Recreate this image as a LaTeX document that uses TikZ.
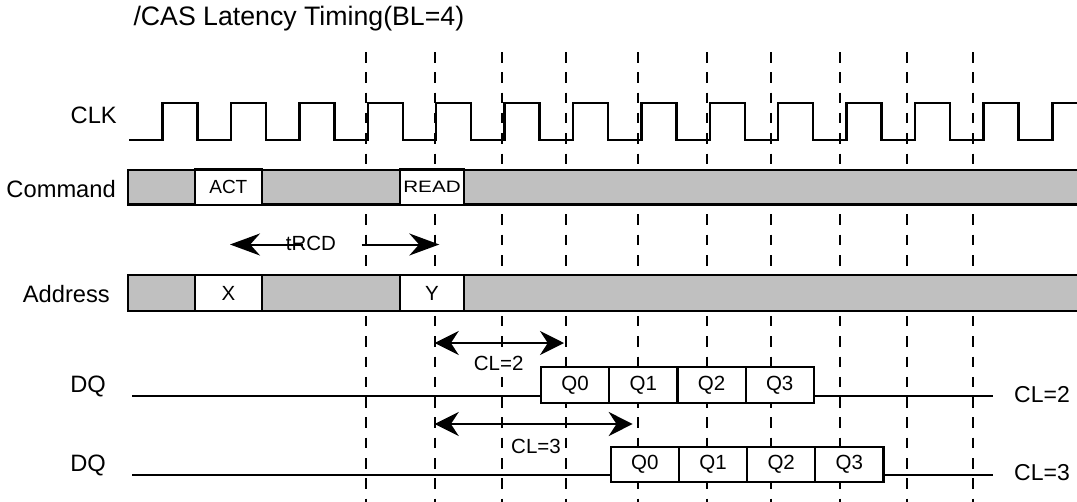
\documentclass[tikz,border=0pt]{standalone}
\usepackage{fontspec}
\setmainfont{Liberation Sans}
\usetikzlibrary{arrows.meta,positioning}

\definecolor{busgray}{RGB}{192,192,192}

\begin{document}
\begin{tikzpicture}[x=1pt,y=-1pt,>={Stealth[length=24pt,width=24pt]}]

\def\px#1{\fontsize{#1}{#1}\selectfont}

\tikzset{
	lbl/.style={inner sep=0pt,anchor=base east,font=\px{23.7}},
	sig/.style={line width=2.4pt},
	bus/.style={draw,line width=2.2pt,fill=busgray},
	cell/.style={draw,line width=2.2pt,fill=white,inner sep=0pt,outer sep=0pt,
		minimum height=35.5pt,font=\px{20.5}},
	grid/.style={line width=1.2pt,dash pattern=on 10.5pt off 9.8pt},
	span/.style={line width=2pt}
}

\clip (0,0) rectangle (1077,501);

% clock edges
\foreach \x in {366,435,502,566,638,707,771,840,907,973}
	\draw[grid] (\x,52) -- (\x,505);

\node[inner sep=0pt,anchor=base west,font=\px{26.7}] (title) at (133.3,25) {/CAS Latency Timing(BL=4)};

\node[lbl] (clk) at (117,123.3) {CLK};
\node[lbl] (cmd) at (116,197.3) {Command};
\node[lbl] (addr) at (110,302.5) {Address};
\node[lbl] (dqa) at (106,392.2) {DQ};
\node[lbl] (dqb) at (106,471.5) {DQ};

% CLK
\draw[sig] (129.3,140) foreach \k in {0,...,12}{
		-- ({162.5+68.4*\k},140) -- ++(0,-37.3) -- ++(35,0) -- ++(0,37.3)}
	-- (1052.3,140) -- (1052.3,102.7) -- (1085,102.7);

% Command
\draw[bus] (127.7,170) rectangle (1090,204.5);
\node[cell,minimum width=66.7pt,font=\px{19}] (act) at (228.35,187.25) {ACT};
\node[cell,minimum width=64pt,font=\px{16.5}] (rd) at (432,187.25) {\scalebox{1.25}[1]{READ}};

% Address
\draw[bus] (127.7,275) rectangle (1090,311);
\node[cell,minimum width=66.7pt] (xa) at (228.35,293) {X};
\node[cell,minimum width=64pt] (ya) at (432,293) {Y};

% tRCD
\coordinate (ra) at (230,244.5);
\coordinate (rb) at (303,244.5);
\coordinate (rc) at (361.7,244.5);
\coordinate (rd) at (439.3,244.5);
\node[inner sep=0pt,font=\px{20.5}] (trcd) at (311,243.5) {tRCD};
\draw[span,-{Stealth[length=30pt,width=22pt]}] (rb) -- (ra);
\draw[span,-{Stealth[length=30pt,width=22pt]}] (rc) -- (rd);

% DQ, CL=2
\coordinate (la) at (132,395.7);
\coordinate (lb) at (993,395.7);
\draw[sig] (la) -- (lb);
\node[cell,minimum width=68.2pt] (qa0) at (575.1,385) {Q0};
\node[cell,minimum width=68.2pt,right=0pt of qa0] (qa1) {Q1};
\node[cell,minimum width=68.2pt,right=0pt of qa1] (qa2) {Q2};
\node[cell,minimum width=68.2pt,right=0pt of qa2] (qa3) {Q3};
\node[inner sep=0pt,anchor=base west,font=\px{23}] (cla) at (1014,402) {CL=2};

\coordinate (ca0) at (434.7,343);
\coordinate (ca1) at (564,343);
\draw[span,<->] (ca0) -- (ca1);
\node[inner sep=0pt,fill=white,font=\px{20.5}] (cla2) at (498.7,363.5) {CL=2};

% DQ, CL=3
\coordinate (lc) at (132,475);
\coordinate (ld) at (993,475);
\draw[sig] (lc) -- (ld);
\node[cell,minimum width=68.2pt] (qb0) at (644.8,464.5) {Q0};
\node[cell,minimum width=68.2pt,right=0pt of qb0] (qb1) {Q1};
\node[cell,minimum width=68.2pt,right=0pt of qb1] (qb2) {Q2};
\node[cell,minimum width=68.2pt,right=0pt of qb2] (qb3) {Q3};
\node[inner sep=0pt,anchor=base west,font=\px{23}] (clb) at (1014,480) {CL=3};

\coordinate (cb0) at (434.7,424);
\coordinate (cb1) at (632.7,424);
\draw[span,<->] (cb0) -- (cb1);
\node[inner sep=0pt,font=\px{20.5}] (clb3) at (536,446.5) {CL=3};

\end{tikzpicture}
\end{document}
